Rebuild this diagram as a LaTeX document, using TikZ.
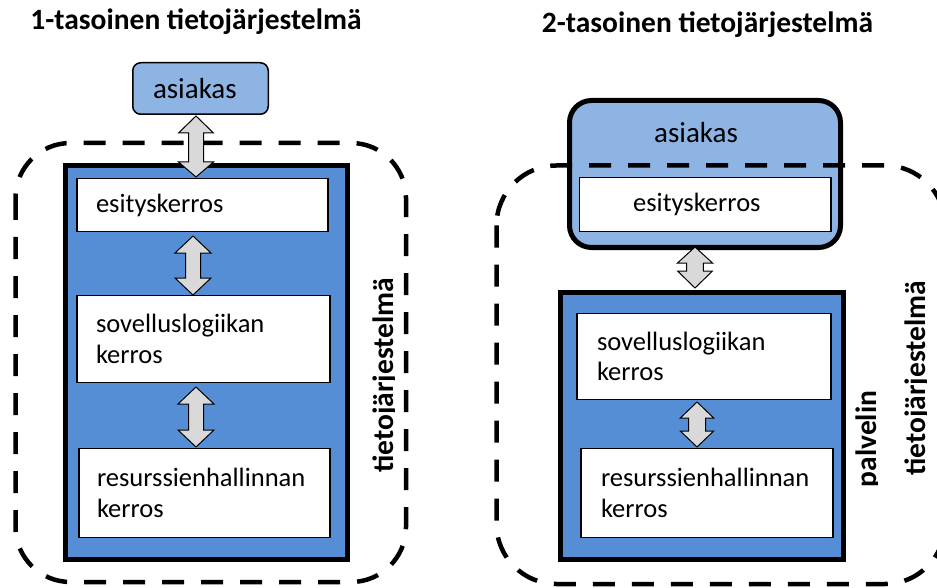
\documentclass[tikz,border=0pt]{standalone}
\usepackage{fontspec}
\setmainfont{Carlito}
\usetikzlibrary{calc}

\definecolor{clientblue}{RGB}{141,180,227}
\definecolor{serverblue}{RGB}{85,142,213}
\definecolor{arrowgray}{RGB}{217,217,217}

\hyphenpenalty=10000
\exhyphenpenalty=10000

\tikzset{
  title/.style={anchor=base, inner sep=0pt, font=\fontsize{29.5}{33}\selectfont\bfseries},
  sidelabel/.style={rotate=90, anchor=base, inner sep=0pt, font=\fontsize{29.5}{33}\selectfont\bfseries},
  groupline/.style={draw=black, line width=4.5pt, dash pattern=on 22pt off 17pt},
  clientsmall/.style={draw=black, line width=1.5pt, fill=clientblue, rounded corners=8pt,
    inner ysep=0pt, align=left, font=\fontsize{29}{32}\selectfont},
  clientbig/.style={draw=black, line width=5pt, fill=clientblue, rounded corners=22pt, inner sep=0pt},
  tierbox/.style={draw=black, line width=5pt, fill=serverblue, inner sep=0pt},
  layer/.style={draw=black, line width=1.3pt, fill=white, inner ysep=0pt, align=left,
    font=\fontsize{26.5}{30.5}\selectfont},
  layertext/.style={anchor=base, inner sep=0pt, font=\fontsize{29}{32}\selectfont},
  arrowbody/.style={draw=black, line width=1pt, fill=arrowgray, line join=miter},
}

% double-headed block arrow between a top point and a bottom point
% #1 top, #2 bottom, #3 half shaft width, #4 half head width, #5/#6 head lengths
\newcommand\dblblockarrow[6]{%
  \draw[arrowbody] let \p1=#1, \p2=#2 in
    (\x1,\y1) -- (\x1+#4,\y1-#5) -- (\x1+#3,\y1-#5) -- (\x1+#3,\y2+#6)
    -- (\x1+#4,\y2+#6) -- (\x1,\y2) -- (\x1-#4,\y2+#6) -- (\x1-#3,\y2+#6)
    -- (\x1-#3,\y1-#5) -- (\x1-#4,\y1-#5) -- cycle;}

\begin{document}
\begin{tikzpicture}[x=1pt, y=-1pt]
\useasboundingbox (0,0) rectangle (937,588);

% ---------------- one-tier system ----------------
\node[title] (titleL) at (196,30) {1-tasoinen tietojärjestelmä};

\draw[groupline, rounded corners=55pt] (15.5,143) rectangle (406,582);

\node[tierbox, minimum width=282pt, minimum height=393.5pt] (mainL) at (206.5,362.25) {};

\node[layer, text width=213pt, inner xsep=19pt, minimum height=52.7pt] (eL) at (202.5,205) {esityskerros};
\node[layer, text width=215pt, inner xsep=19pt, minimum height=86.7pt] (sL) at (203.5,339) {sovelluslogiikan\\kerros};
\node[layer, text width=215pt, inner xsep=18pt, minimum height=88.7pt] (rL) at (204.5,493) {resurssienhallinnan\\kerros};

\node[clientsmall, text width=95pt, inner xsep=20.25pt, minimum height=51.5pt] (aL) at (200.5,88.5) {asiakas};

\coordinate (axL1) at (196,0);
\coordinate (axL2) at (193,0);
\coordinate (axL3) at (196,0);
\dblblockarrow{($(aL.south -| axL1)+(0,1)$)}{($(eL.north -| axL1)+(0,-1)$)}{7.5pt}{17.5pt}{17pt}{15pt}
\dblblockarrow{($(eL.south -| axL2)+(0,4)$)}{($(sL.north -| axL2)+(0,0)$)}{7.5pt}{18pt}{17pt}{17pt}
\dblblockarrow{($(sL.south -| axL3)+(0,4)$)}{($(rL.north -| axL3)+(0,-1)$)}{7.5pt}{18pt}{17pt}{17pt}

\begin{scope}
  \clip (355,250) rectangle (394.3,500);
  \node[sidelabel] (sysL) at (393.3,375) {tietojärjestelmä};
\end{scope}

% ---------------- two-tier system ----------------
\node[title] (titleR) at (707.5,33) {2-tasoinen tietojärjestelmä};

\node[clientbig, minimum width=271pt, minimum height=147pt] (aR) at (705,174) {};
\node[layertext] (aRtext) at (696,143) {asiakas};

\draw[groupline, rounded corners=60pt] (496.5,165.5) rectangle (945,584);

\node[layer, text width=143.7pt, inner xsep=54pt, minimum height=53.7pt] (eR) at (705,204.5) {esityskerros};

\node[tierbox, minimum width=283pt, minimum height=267pt] (pR) at (702,426) {};

\node[layer, text width=214pt, inner xsep=20pt, minimum height=85.7pt] (sR) at (704,356.5) {sovelluslogiikan\\kerros};
\node[layer, text width=212pt, inner xsep=20pt, minimum height=88.7pt] (rR) at (707,493) {resurssienhallinnan\\kerros};

\coordinate (axR1) at (695,0);
\coordinate (axR2) at (697,0);
\dblblockarrow{($(aR.south -| axR1)+(0,-3)$)}{($(pR.north -| axR1)+(0,-2)$)}{8.3pt}{17.5pt}{16pt}{17pt}
\dblblockarrow{($(sR.south -| axR2)+(0,2)$)}{($(rR.north -| axR2)+(0,-1)$)}{8.5pt}{16.7pt}{16pt}{16pt}

\begin{scope}
  \clip (850,380) rectangle (877.7,500);
  \node[sidelabel] (palvelin) at (876.7,439) {palvelin};
\end{scope}
\begin{scope}
  \clip (895,270) rectangle (926,490);
  \node[sidelabel] (sysR) at (925,378) {tietojärjestelmä};
\end{scope}

\end{tikzpicture}
\end{document}
